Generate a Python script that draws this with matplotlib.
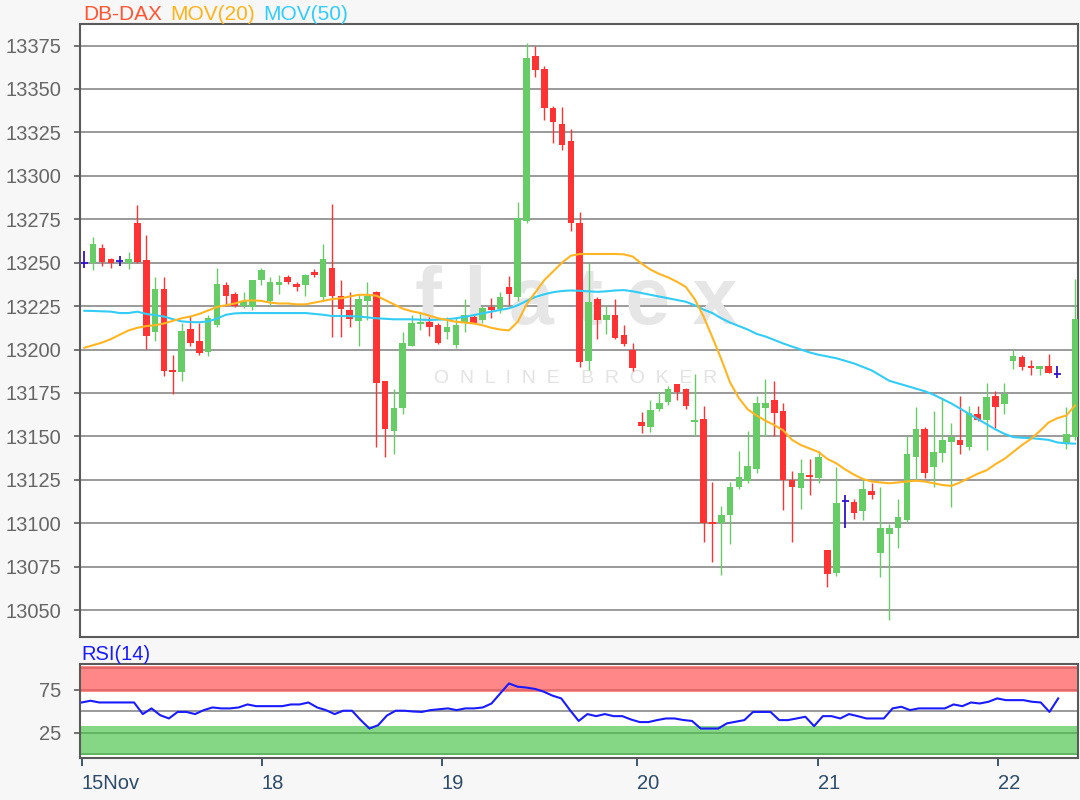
import numpy as np
import matplotlib
matplotlib.use("Agg")
import matplotlib.pyplot as plt

# DB-DAX hourly candles, 15-22 Nov (21 bars per trading day)
opens = [13250, 13250, 13258.5, 13252, 13251, 13250, 13272.7, 13251.4, 13210, 13234.7,
         13188.4, 13187, 13212, 13205, 13198.5, 13214, 13237.4, 13232, 13225, 13224.3,
         13240, 13228, 13237, 13241.8, 13238, 13237, 13244.5, 13230, 13247, 13231,
         13222.7, 13216.5, 13228, 13233, 13181.6, 13153, 13166.5, 13202, 13214.5, 13216,
         13214, 13210, 13202.5, 13215.5, 13219, 13217, 13224.5, 13223.5, 13236, 13230.4,
         13274, 13369, 13361.5, 13339, 13330, 13320, 13273, 13193.5, 13229, 13217,
         13220, 13208.6, 13200, 13158.5, 13155.5, 13165.5, 13170, 13180, 13177.5, 13158,
         13160, 13100.5, 13100, 13105, 13121, 13124.5, 13131, 13166.5, 13171, 13164.5,
         13124.6, 13120, 13128, 13126, 13084.5, 13071.5, 13113, 13112.5, 13107, 13118.3,
         13083, 13094, 13097, 13102, 13138, 13154, 13132.3, 13140.6, 13147, 13147.7,
         13143.6, 13163, 13159.2, 13173.4, 13168.6, 13193.6, 13195.6, 13190.5, 13189, 13190.4,
         13185.8, 13145.5, 13149.6]
highs = [13257, 13264.5, 13261, 13252.5, 13254, 13256, 13283, 13266, 13241.5, 13241.5,
         13197, 13215.5, 13219.5, 13215.5, 13220, 13247, 13239, 13233, 13233, 13240,
         13247, 13241.5, 13243, 13243, 13239, 13243.5, 13246.5, 13261, 13284, 13240,
         13233, 13232, 13239, 13233.5, 13181.6, 13177, 13210, 13220, 13221, 13218.5,
         13215, 13218.5, 13218.5, 13229, 13220, 13225, 13229.5, 13233, 13242.6, 13285,
         13376.5, 13374.6, 13363, 13340, 13339.5, 13327, 13279, 13250, 13230, 13225,
         13229, 13214, 13204, 13164, 13171, 13175.5, 13179, 13180, 13178, 13186,
         13167.6, 13124, 13110, 13124, 13141.5, 13153, 13173.5, 13183, 13182, 13169,
         13130, 13137, 13137, 13141.5, 13084.5, 13132.5, 13116, 13114, 13125, 13123,
         13120.6, 13099.5, 13114, 13150, 13167, 13155.6, 13164.4, 13172, 13157.7, 13173,
         13167.7, 13167.7, 13180.8, 13176, 13180.6, 13199.6, 13197, 13194, 13190.4, 13197.4,
         13190.4, 13167, 13240.6]
lows = [13247, 13246, 13248, 13247, 13248, 13246.5, 13250, 13200.4, 13204.7, 13185,
        13174.5, 13182, 13202, 13197, 13196, 13213, 13225, 13224.5, 13224, 13223,
        13237, 13225, 13232, 13238, 13233.5, 13231, 13241.5, 13228, 13207, 13207,
        13213, 13202, 13217, 13144, 13138, 13140, 13163, 13202, 13211, 13208,
        13203, 13206, 13201, 13210, 13215, 13215, 13218, 13221, 13225.6, 13228,
        13273, 13357, 13332, 13319, 13315, 13268, 13190, 13188, 13206, 13209,
        13206, 13202, 13187.5, 13152, 13152.5, 13164.5, 13168, 13171, 13166, 13150,
        13089, 13077.6, 13070, 13088, 13119.5, 13123, 13129, 13150, 13150, 13107.5,
        13089, 13108, 13116, 13123, 13063.5, 13069.5, 13097.5, 13102.6, 13102, 13114,
        13069, 13044, 13086, 13100, 13125, 13126, 13120.8, 13135, 13109.6, 13140,
        13142, 13158.7, 13142, 13155, 13163, 13188.8, 13188, 13185.5, 13185.5, 13186.2,
        13183.7, 13142.6, 13148]
closes = [13250, 13261, 13250.4, 13250, 13251, 13252, 13250.4, 13207.5, 13234.7, 13187.8,
          13187, 13210.6, 13204, 13198, 13218, 13237.8, 13231, 13225, 13228, 13240,
          13246, 13239, 13239, 13238.7, 13236, 13243, 13242.8, 13252, 13231, 13223.3,
          13217.3, 13229, 13231, 13181, 13154, 13166.5, 13204, 13215.5, 13216, 13213,
          13204, 13213, 13214, 13220, 13215.5, 13224, 13223, 13230.5, 13232, 13276,
          13368, 13361, 13339, 13331, 13318, 13273, 13193, 13227.5, 13217, 13220,
          13206.5, 13203, 13189.4, 13156, 13165, 13169, 13177, 13175.4, 13167.4, 13159.5,
          13100, 13099.6, 13105, 13121, 13126.5, 13133, 13169, 13169, 13163.7, 13124.6,
          13120.8, 13129, 13126.5, 13138.3, 13071, 13111.7, 13113, 13106, 13119.6, 13116.3,
          13097, 13097, 13103.5, 13140, 13154, 13128.8, 13141, 13147.7, 13149.6, 13145,
          13163.3, 13159.6, 13172.6, 13167, 13174.4, 13196.3, 13189.8, 13189.5, 13190.4, 13186.2,
          13185.8, 13151.3, 13217.7]

# moving averages as shown on the chart
mov20 = [13201, 13202.5, 13204, 13206, 13208.5, 13211, 13212.5, 13213.5, 13214, 13215,
         13216.5, 13218, 13219, 13220.5, 13222.5, 13224.5, 13225.5, 13226.5, 13228, 13228.3,
         13228, 13227, 13226.5, 13226.5, 13226, 13226, 13227, 13228, 13229, 13229.5,
         13230.5, 13231.5, 13231.5, 13231, 13228.5, 13226, 13223.5, 13222, 13221, 13219.5,
         13218, 13217, 13216, 13215.5, 13215, 13214, 13212.5, 13211.5, 13211, 13216,
         13226, 13233, 13240, 13245, 13250, 13254, 13255, 13255, 13255, 13255,
         13255, 13254.8, 13253.5, 13249.5, 13246, 13243.5, 13241.5, 13239, 13236, 13229,
         13219, 13207, 13194.5, 13181, 13172, 13165.5, 13162, 13159, 13156.5, 13153.5,
         13148, 13145, 13143, 13141, 13137, 13134.5, 13131, 13128, 13125.5, 13124,
         13123.5, 13123, 13123.5, 13124, 13124.5, 13124, 13123, 13122, 13121.5, 13123.5,
         13126, 13128.5, 13130.5, 13134, 13137, 13141, 13145, 13148.5, 13153, 13158,
         13160.5, 13162, 13167.8]
mov50 = [13222.3, 13222.2, 13222, 13221.8, 13221, 13221, 13221.8, 13220.5, 13219.8, 13219,
         13217.5, 13216.2, 13215.8, 13215.7, 13216.2, 13217.8, 13220, 13220.8, 13221, 13221,
         13221, 13221, 13221, 13221, 13221, 13221, 13220.5, 13220, 13219.3, 13219.3,
         13219.2, 13219, 13218.5, 13218, 13217.7, 13217.4, 13217.4, 13217.4, 13217.2, 13217,
         13217.2, 13217.4, 13218, 13218.8, 13219.8, 13220.8, 13221.8, 13222.8, 13223.7, 13225.5,
         13228, 13230.3, 13231.8, 13233, 13233.7, 13234, 13233.8, 13233.5, 13233.2, 13233.5,
         13234, 13234.2, 13233.5, 13232.5, 13231.5, 13230.5, 13229.5, 13228.5, 13227.5, 13225.5,
         13223, 13221, 13218, 13215.5, 13213.5, 13211.5, 13209, 13207.5, 13205.5, 13203.5,
         13201.7, 13200, 13198.3, 13197, 13196, 13195, 13193.5, 13192, 13190, 13188,
         13185, 13182, 13180.5, 13179, 13177.5, 13176, 13174, 13171.5, 13169, 13166,
         13163, 13160, 13157, 13154, 13151.5, 13149.6, 13149.2, 13149, 13148.5, 13148,
         13146.5, 13146, 13145.8]

rsi14 = [60.4, 62.4, 60.4, 60.4, 60.4, 60.4, 60.4, 46.9, 53.5, 45.6,
         41.8, 49.4, 49.4, 46.9, 51.5, 54.6, 53.5, 53.5, 54.6, 58.1,
         56.1, 56.1, 56.1, 56.1, 58.1, 58.1, 60.4, 54.6, 51.5, 46.9,
         50.8, 50.8, 39.9, 30.1, 34.0, 45.2, 50.8, 50.8, 49.9, 49.4,
         51.5, 52.5, 53.5, 51.5, 53.5, 53.5, 54.6, 59.2, 70.9, 82.5,
         78.7, 77.7, 76.1, 72.9, 68.3, 65.1, 51.5, 38.9, 46.9, 44.5,
         46.9, 44.5, 44.5, 40.6, 37.6, 37.6, 39.9, 41.8, 41.8, 40.0,
         38.9, 30.1, 30.1, 30.1, 36.1, 38.0, 39.9, 49.4, 49.4, 49.4,
         39.9, 39.9, 41.8, 43.8, 32.9, 44.5, 44.5, 41.8, 46.9, 44.5,
         41.8, 41.8, 41.8, 53.5, 55.4, 51.5, 53.5, 53.5, 53.5, 53.5,
         58.1, 56.1, 60.4, 59.2, 61.2, 65.1, 63.1, 63.1, 63.1, 61.2,
         60.4, 49.4, 65.1]

price_ticks = list(range(13050, 13376, 25))
rsi_ticks = [25, 75]
day_labels = ['15Nov', '18', '19', '20', '21', '22']
day_pos = [0, 20.66, 41.3, 63.7, 84.4, 105.06]

GREEN = '#66cc66'
RED = '#ff3333'
DOJI = '#3311cc'
ORANGE = '#ffb522'
CYAN = '#33ccf5'
GRID = '#9a9a9a'
FRAME = '#5a5a5a'

plt.rcParams['font.family'] = ['Liberation Sans', 'DejaVu Sans']


def draw_candles(ax, o, h, l, c):
    """Wicks and bodies; open == close is drawn as a blue cross."""
    x = np.arange(len(c))
    up = c > o
    dn = c < o
    dj = c == o
    for mask, col in ((up, GREEN), (dn, RED)):
        ax.vlines(x[mask], l[mask], h[mask], color=col, lw=1.0, zorder=3)
        bottom = np.minimum(o[mask], c[mask])
        height = np.maximum(np.abs(c[mask] - o[mask]), 1.2)
        ax.bar(x[mask], height, bottom=bottom, width=0.75, color=col, lw=0, zorder=3)
    ax.vlines(x[dj], l[dj], h[dj], color=DOJI, lw=1.3, zorder=3)
    ax.hlines(o[dj], x[dj] - 0.4, x[dj] + 0.4, color=DOJI, lw=1.3, zorder=3)


fig = plt.figure(figsize=(10.8, 8), dpi=100, facecolor='#f7f7f7')
ax = fig.add_axes([80 / 1080, 1 - 637 / 800, 998 / 1080, 613 / 800])
rsi_ax = fig.add_axes([80 / 1080, 1 - 757.7 / 800, 998 / 1080, 93.7 / 800])

# --- price panel ---
o, h, l, c = (np.array(a, dtype=float) for a in (opens, highs, lows, closes))
draw_candles(ax, o, h, l, c)
xs = np.arange(len(closes))
ax.plot(xs, mov50, color=CYAN, lw=1.5, zorder=4)
ax.plot(xs, mov20, color=ORANGE, lw=1.5, zorder=4)

ax.set_xlim(-0.49, 112.33)
ax.set_ylim(13034.5, 13387.4)
ax.set_yticks(price_ticks)
ax.yaxis.grid(True, color=GRID, lw=1.4)
ax.set_axisbelow(True)
ax.tick_params(axis='y', length=4, width=1.2, color=FRAME, labelsize=14.5,
               labelcolor='#666666', pad=9.5)
ax.tick_params(axis='x', bottom=False, labelbottom=False)
for sp in ax.spines.values():
    sp.set_color(FRAME)
    sp.set_linewidth(1.5)

# watermark
ax.text(0.497, 0.545, 'f l a t e x', transform=ax.transAxes, fontsize=58,
        fontweight='bold', color='#e6e6e6', ha='center', va='center', zorder=0.6)
ax.text(0.497, 0.422, 'O  N  L  I  N  E    B  R  O  K  E  R', transform=ax.transAxes,
        fontsize=14, color='#e3e3e3', ha='center', va='center', zorder=0.6)

# legend-like header
fig.text(83 / 1080, 1 - 14 / 800, 'DB-DAX', color='#ff5533', fontsize=15, va='center')
fig.text(170 / 1080, 1 - 14 / 800, 'MOV(20)', color='#ffb31a', fontsize=15, va='center')
fig.text(263 / 1080, 1 - 14 / 800, 'MOV(50)', color='#33ccff', fontsize=15, va='center')

# --- RSI panel ---
rx = np.arange(len(rsi14))
rsi_ax.set_xlim(-0.2, 114.27)
rsi_ax.set_ylim(-3.8, 105.1)
for lvl in (0, 50, 100):
    rsi_ax.axhline(lvl, color=GRID, lw=1.4, zorder=1)
rsi_ax.set_yticks(rsi_ticks)
rsi_ax.yaxis.grid(True, color=GRID, lw=1.4)
rsi_ax.set_axisbelow(True)
rsi_ax.axhspan(72.9, 103, color='#ff5555', alpha=0.7, lw=0, zorder=2)
rsi_ax.axhspan(-1, 33.4, color='#44c044', alpha=0.65, lw=0, zorder=2)
rsi_ax.plot(rx, rsi14, color='#1a1aff', lw=1.5, zorder=3)

rsi_ax.set_xticks(day_pos)
rsi_ax.set_xticklabels(day_labels, ha='left')
rsi_ax.tick_params(axis='x', length=6, width=1.3, color='#2d4b69', labelsize=14.5,
                   labelcolor='#2d4b69', pad=6)
rsi_ax.tick_params(axis='y', length=4, width=1.2, color=FRAME, labelsize=14.5,
                   labelcolor='#666666', pad=9.5)
for sp in rsi_ax.spines.values():
    sp.set_color(FRAME)
    sp.set_linewidth(1.5)
fig.text(81 / 1080, 1 - 655 / 800, 'RSI(14)', color='#1a1aff', fontsize=14.5, va='center')

fig.savefig('out.png', dpi=100, facecolor=fig.get_facecolor())
